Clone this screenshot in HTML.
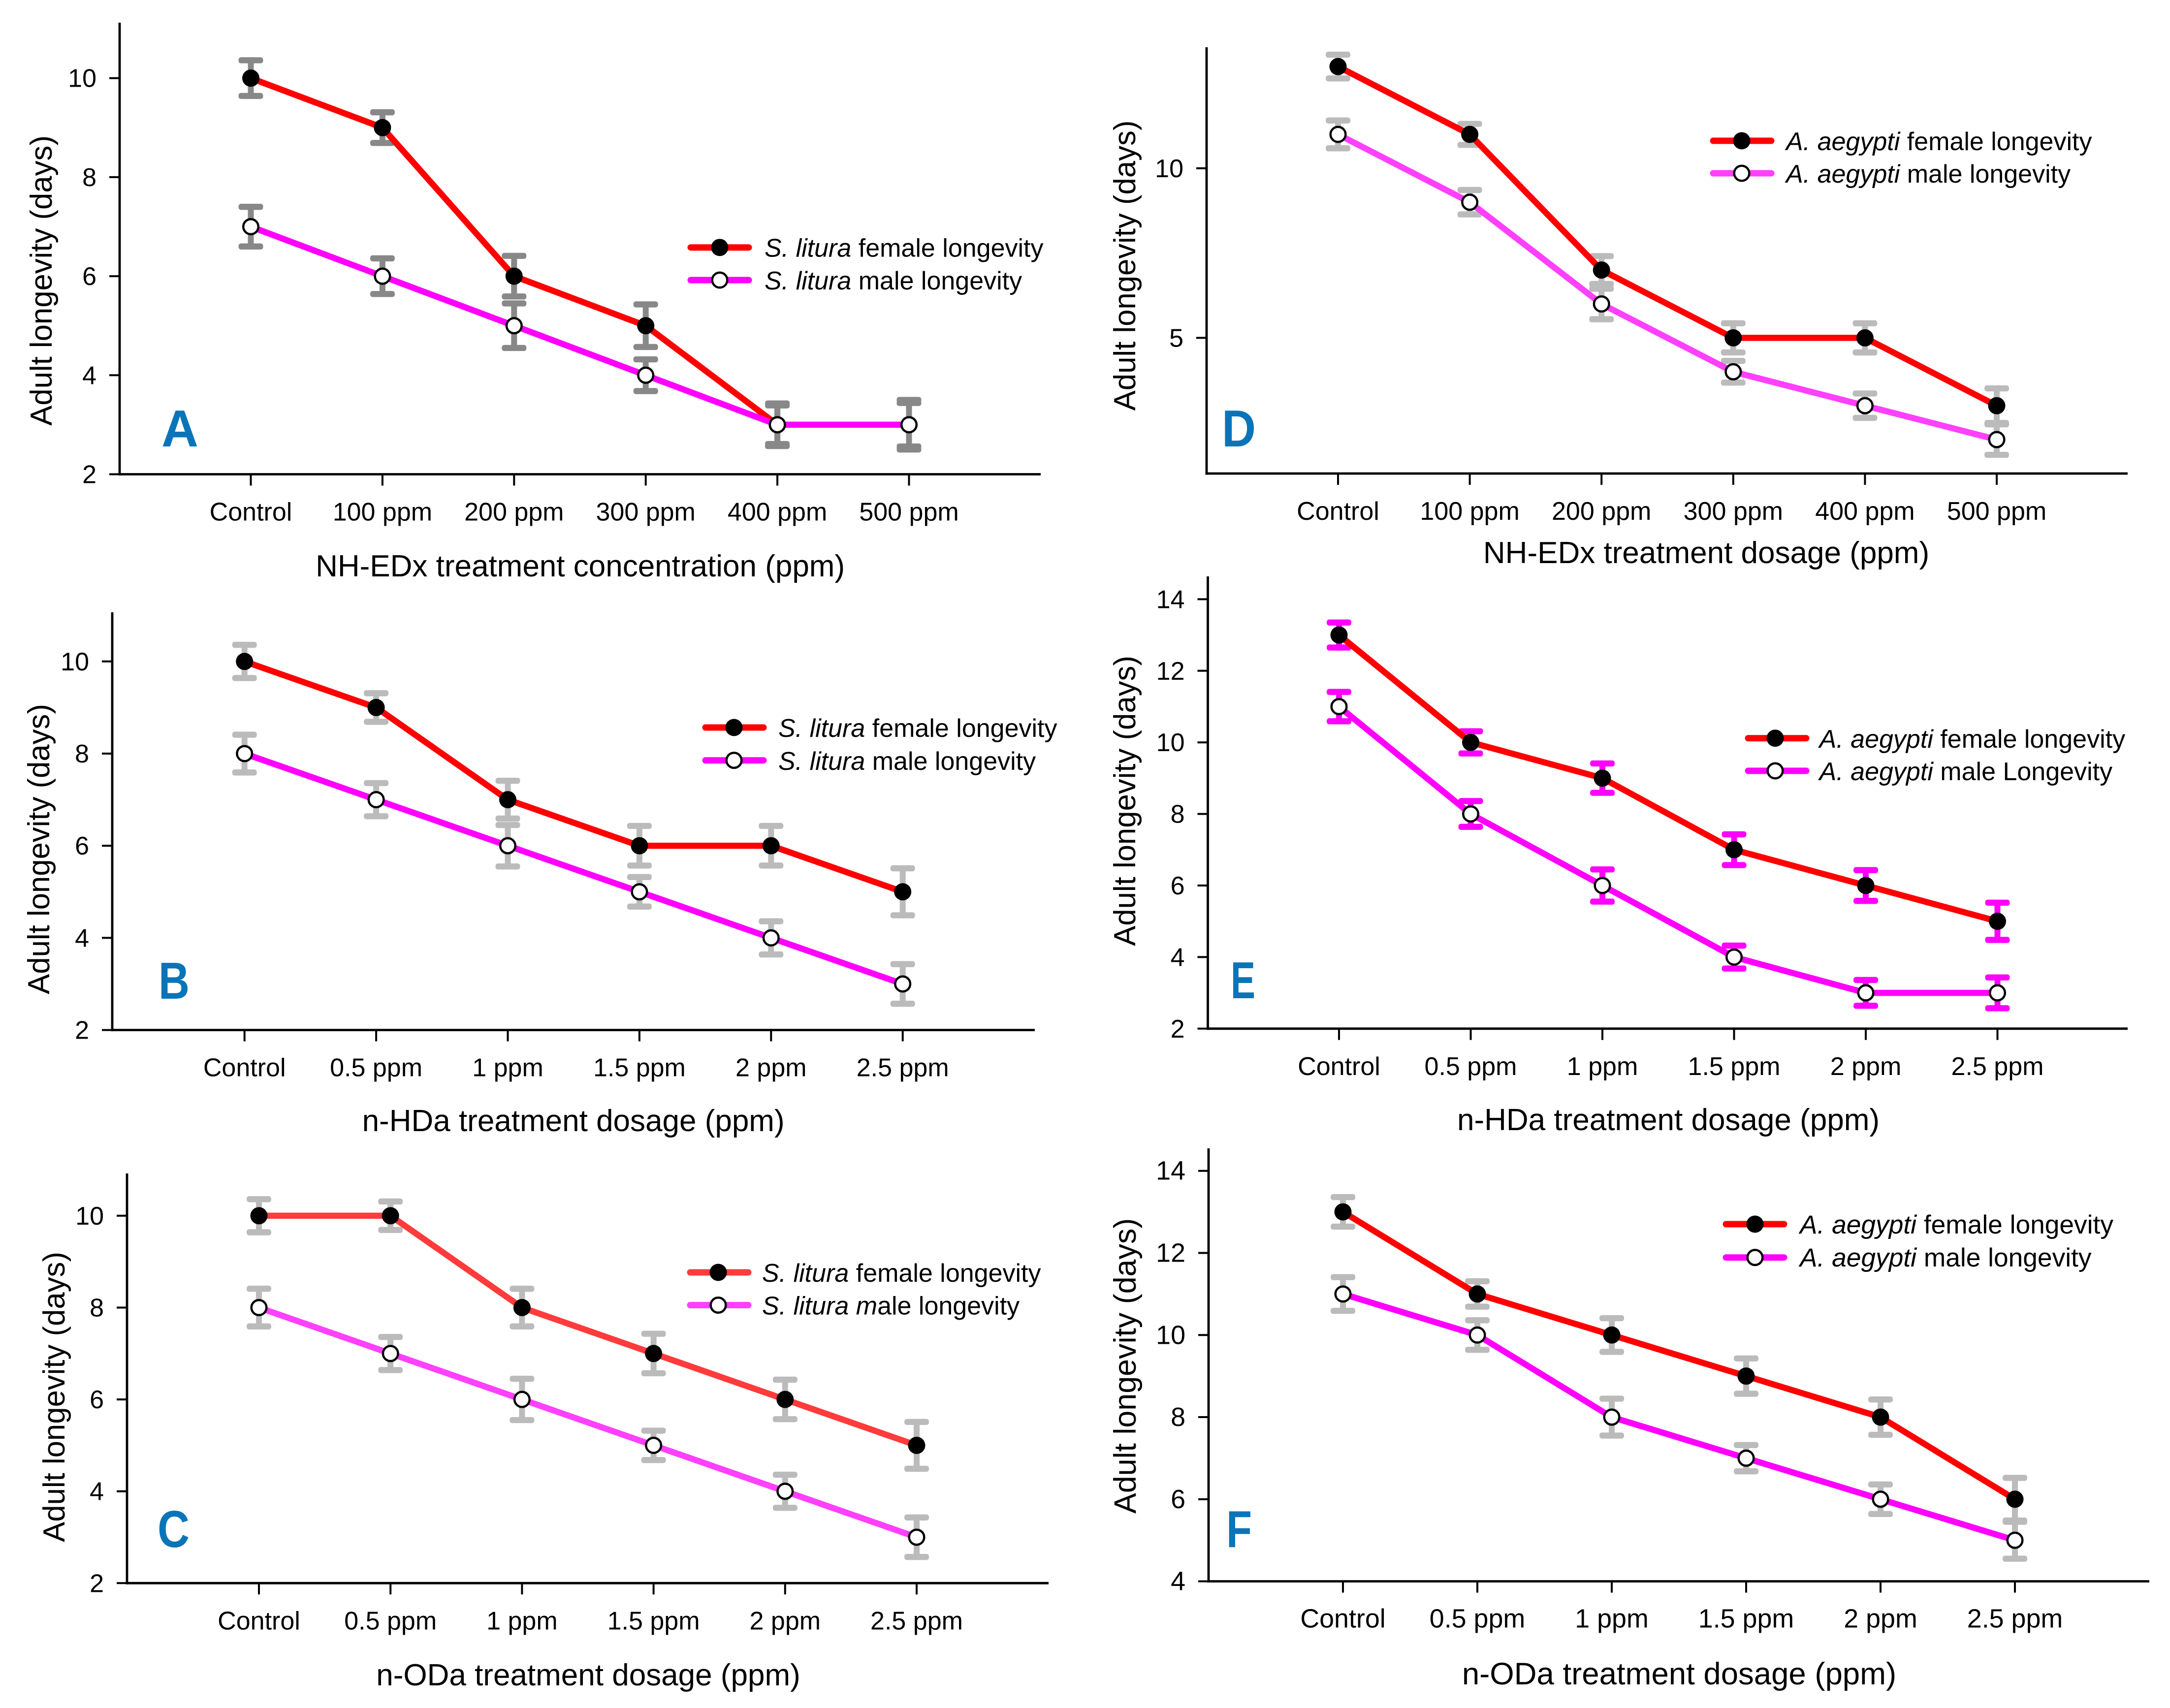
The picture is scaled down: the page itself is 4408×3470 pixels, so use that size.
<!DOCTYPE html>
<html lang="en">
<head>
<meta charset="utf-8">
<title>Adult longevity charts</title>
<style>
html,body{margin:0;padding:0;background:#fff;}
svg{display:block;}
text{font-family:"Liberation Sans",sans-serif;fill:#000;}
.title{font-size:62px;}
.title-y{font-size:61.7px;}
.title-f{font-size:63.5px;}
.title-fy{font-size:62.8px;}
.leg{font-size:52px;}
.leg-f{font-size:53.3px;}
.tick{font-size:52px;}
.letter{font-size:106px;font-weight:bold;fill:#0a74b9;}
.it{font-style:italic;}
</style>
</head>
<body>
<svg id="figure" xmlns="http://www.w3.org/2000/svg" width="4408" height="3470" viewBox="0 0 4408 3470">
<rect x="0" y="0" width="4408" height="3470" fill="#ffffff"/>

<g id="panel-a">
  <text class="title-y" transform="translate(105,570) rotate(-90)" text-anchor="middle">Adult longevity (days)</text>
  <text class="title" x="1178.6" y="1171" text-anchor="middle">NH-EDx treatment concentration (ppm)</text>
  <text class="letter" x="328" y="907" textLength="75" lengthAdjust="spacingAndGlyphs">A</text>
</g>
<g id="panel-b">
  <text class="title-y" transform="translate(100,1725) rotate(-90)" text-anchor="middle">Adult longevity (days)</text>
  <text class="title" x="1164.6" y="2298" text-anchor="middle">n-HDa treatment dosage (ppm)</text>
  <text class="letter" x="322" y="2029" textLength="63" lengthAdjust="spacingAndGlyphs">B</text>
</g>
<g id="panel-c">
  <text class="title-y" transform="translate(131,2838) rotate(-90)" text-anchor="middle">Adult longevity (days)</text>
  <text class="title" x="1195" y="3424" text-anchor="middle">n-ODa treatment dosage (ppm)</text>
  <text class="letter" x="320" y="3143" textLength="65" lengthAdjust="spacingAndGlyphs">C</text>
</g>
<g id="panel-d">
  <text class="title-y" transform="translate(2306,539.5) rotate(-90)" text-anchor="middle">Adult longevity (days)</text>
  <text class="title" x="3466" y="1144" text-anchor="middle">NH-EDx treatment dosage (ppm)</text>
  <text class="letter" x="2482" y="907" textLength="69" lengthAdjust="spacingAndGlyphs">D</text>
</g>
<g id="panel-e">
  <text class="title-y" transform="translate(2306,1627) rotate(-90)" text-anchor="middle">Adult longevity (days)</text>
  <text class="title" x="3389" y="2296" text-anchor="middle">n-HDa treatment dosage (ppm)</text>
  <text class="letter" x="2500" y="2028" textLength="50" lengthAdjust="spacingAndGlyphs">E</text>
</g>
<g id="panel-f">
  <text class="title-fy" transform="translate(2307,2775) rotate(-90)" text-anchor="middle">Adult longevity (days)</text>
  <text class="title-f" x="3411" y="3422" text-anchor="middle">n-ODa treatment dosage (ppm)</text>
  <text class="letter" x="2491" y="3143" textLength="52" lengthAdjust="spacingAndGlyphs">F</text>
</g>

<!-- legends -->
<g>
  <g>
    <line x1="1403" y1="502.7" x2="1521" y2="502.7" stroke="#ff0000" stroke-width="13" stroke-linecap="round"/>
    <circle cx="1462" cy="502.7" r="17.5" fill="#000"/>
    <text class="leg" x="1553" y="521.7"><tspan class="it">S. litura</tspan> female longevity</text>
  </g>
  <g>
    <line x1="1403" y1="569" x2="1521" y2="569" stroke="#ff00ff" stroke-width="13" stroke-linecap="round"/>
    <circle cx="1462" cy="569" r="15.3" fill="#fff" stroke="#000" stroke-width="4.5"/>
    <text class="leg" x="1553" y="588"><tspan class="it">S. litura</tspan> male longevity</text>
  </g>
</g>
<g>
  <g>
    <line x1="1433" y1="1478" x2="1551" y2="1478" stroke="#ff0000" stroke-width="13" stroke-linecap="round"/>
    <circle cx="1491" cy="1478" r="17.5" fill="#000"/>
    <text class="leg" x="1581" y="1497"><tspan class="it">S. litura</tspan> female longevity</text>
  </g>
  <g>
    <line x1="1433" y1="1544.7" x2="1551" y2="1544.7" stroke="#ff00ff" stroke-width="13" stroke-linecap="round"/>
    <circle cx="1491" cy="1544.7" r="15.3" fill="#fff" stroke="#000" stroke-width="4.5"/>
    <text class="leg" x="1581" y="1564"><tspan class="it">S. litura</tspan> male longevity</text>
  </g>
</g>
<g>
  <g>
    <line x1="1402" y1="2585" x2="1520" y2="2585" stroke="#ff3b3b" stroke-width="13" stroke-linecap="round"/>
    <circle cx="1459" cy="2585" r="17.5" fill="#000"/>
    <text class="leg" x="1548" y="2604"><tspan class="it">S. litura</tspan> female longevity</text>
  </g>
  <g>
    <line x1="1402" y1="2651.5" x2="1520" y2="2651.5" stroke="#ff40ff" stroke-width="13" stroke-linecap="round"/>
    <circle cx="1459" cy="2651.5" r="15.3" fill="#fff" stroke="#000" stroke-width="4.5"/>
    <text class="leg" x="1548" y="2670.5"><tspan class="it">S. litura m</tspan>ale longevity</text>
  </g>
</g>
<g>
  <g>
    <line x1="3480" y1="286" x2="3598" y2="286" stroke="#ff0000" stroke-width="13" stroke-linecap="round"/>
    <circle cx="3538" cy="286" r="17.5" fill="#000"/>
    <text class="leg" x="3628" y="305"><tspan class="it">A. aegypti</tspan> female longevity</text>
  </g>
  <g>
    <line x1="3480" y1="352" x2="3598" y2="352" stroke="#ff40ff" stroke-width="13" stroke-linecap="round"/>
    <circle cx="3538" cy="352" r="15.3" fill="#fff" stroke="#000" stroke-width="4.5"/>
    <text class="leg" x="3628" y="371"><tspan class="it">A. aegypti</tspan> male longevity</text>
  </g>
</g>
<g>
  <g>
    <line x1="3551" y1="1499.7" x2="3669" y2="1499.7" stroke="#ff0000" stroke-width="13" stroke-linecap="round"/>
    <circle cx="3606" cy="1499.7" r="17.5" fill="#000"/>
    <text class="leg" x="3695.6" y="1519"><tspan class="it">A. aegypti</tspan> female longevity</text>
  </g>
  <g>
    <line x1="3551" y1="1566" x2="3669" y2="1566" stroke="#ff00ff" stroke-width="13" stroke-linecap="round"/>
    <circle cx="3606" cy="1566" r="15.3" fill="#fff" stroke="#000" stroke-width="4.5"/>
    <text class="leg" x="3695.6" y="1585"><tspan class="it">A. aegypti</tspan> male Longevity</text>
  </g>
</g>
<g>
  <g>
    <line x1="3506" y1="2487" x2="3624" y2="2487" stroke="#ff0000" stroke-width="13" stroke-linecap="round"/>
    <circle cx="3565" cy="2487" r="17.5" fill="#000"/>
    <text class="leg-f" x="3656" y="2506"><tspan class="it">A. aegypti</tspan> female longevity</text>
  </g>
  <g>
    <line x1="3506" y1="2554.7" x2="3624" y2="2554.7" stroke="#ff00ff" stroke-width="13" stroke-linecap="round"/>
    <circle cx="3565" cy="2554.7" r="15.3" fill="#fff" stroke="#000" stroke-width="4.5"/>
    <text class="leg-f" x="3656" y="2573"><tspan class="it">A. aegypti</tspan> male longevity</text>
  </g>
</g>
</svg>

<script>
// ---------- data ----------
const categoriesNH = ['Control', '100 ppm', '200 ppm', '300 ppm', '400 ppm', '500 ppm'];
const categoriesDose = ['Control', '0.5 ppm', '1 ppm', '1.5 ppm', '2 ppm', '2.5 ppm'];

const yTicksA = [2, 4, 6, 8, 10];
const femaleA = [10, 9, 6, 5, 3, 3];
const maleA = [7, 6, 5, 4, 3, 3];
const femaleErrA = [0.36, 0.31, 0.41, 0.43, 0.39, 0.44];
const maleErrA = [0.40, 0.36, 0.45, 0.32, 0.43, 0.50];

const yTicksB = [2, 4, 6, 8, 10];
const femaleB = [10, 9, 7, 6, 6, 5];
const maleB = [8, 7, 6, 5, 4, 3];
const femaleErrB = [0.36, 0.31, 0.41, 0.43, 0.43, 0.51];
const maleErrB = [0.41, 0.36, 0.45, 0.32, 0.36, 0.43];

const yTicksC = [2, 4, 6, 8, 10];
const femaleC = [10, 10, 8, 7, 6, 5];
const maleC = [8, 7, 6, 5, 4, 3];
const femaleErrC = [0.36, 0.31, 0.41, 0.43, 0.43, 0.51];
const maleErrC = [0.41, 0.36, 0.45, 0.32, 0.36, 0.43];

const yTicksD = [5, 10];
const femaleD = [13, 11, 7, 5, 5, 3];
const maleD = [11, 9, 6, 4, 3, 2];
const femaleErrD = [0.35, 0.31, 0.41, 0.43, 0.43, 0.51];
const maleErrD = [0.41, 0.36, 0.45, 0.32, 0.36, 0.45];

const yTicksE = [2, 4, 6, 8, 10, 12, 14];
const femaleE = [13, 10, 9, 7, 6, 5];
const maleE = [11, 8, 6, 4, 3, 3];
const femaleErrE = [0.35, 0.31, 0.41, 0.43, 0.43, 0.52];
const maleErrE = [0.41, 0.36, 0.45, 0.32, 0.36, 0.43];

const yTicksF = [4, 6, 8, 10, 12, 14];
const femaleF = [13, 11, 10, 9, 8, 6];
const maleF = [11, 10, 8, 7, 6, 5];
const femaleErrF = [0.36, 0.31, 0.41, 0.43, 0.43, 0.52];
const maleErrF = [0.41, 0.36, 0.45, 0.32, 0.36, 0.45];

// ---------- drawing ----------
const SVGNS = 'http://www.w3.org/2000/svg';

function make(parent, tag, attrs) {
  const node = document.createElementNS(SVGNS, tag);
  for (const key in attrs) node.setAttribute(key, attrs[key]);
  parent.appendChild(node);
  return node;
}

function drawPanel(p) {
  const root = document.getElementById(p.id);
  const xScale = function (i) { return p.firstX + i * p.stepX; };
  const yScale = function (v) { return p.baseY - (v - p.minY) * p.unitY; };
  const tickFont = (p.tickFont || 52) + 'px';

  // axes
  const yAxis = make(root, 'line', { x1: p.axisX, y1: p.topY, x2: p.axisX, y2: p.baseY + 2.5, stroke: '#000', 'stroke-width': 4.8 });
  
  

  const xAxis = make(root, 'line', { x1: p.axisX - 2.4, y1: p.baseY, x2: p.endX, y2: p.baseY, stroke: '#000', 'stroke-width': 4.8 });
  
  

  // y ticks
  p.yTicks.forEach(function (v) {
    const y = yScale(v);
    const tick = make(root, 'line', { x1: p.axisX - 21, y1: y, x2: p.axisX, y2: y, stroke: '#000', 'stroke-width': 4 });
    
    
    const label = make(root, 'text', { class: 'tick', x: p.axisX - 47, y: y + 18, 'text-anchor': 'end' });
    
    
    label.style.fontSize = tickFont;
    label.textContent = String(v);
  });

  // x ticks
  p.categories.forEach(function (c, i) {
    const x = xScale(i);
    const tick = make(root, 'line', { x1: x, y1: p.baseY, x2: x, y2: p.baseY + 23, stroke: '#000', 'stroke-width': 4 });
    
    
    const label = make(root, 'text', { class: 'tick', x: x, y: p.baseY + 94, 'text-anchor': 'middle' });
    
    
    label.style.fontSize = tickFont;
    label.textContent = c;
  });

  // error bars
  [[p.female, p.femaleErr], [p.male, p.maleErr]].forEach(function (pair) {
    pair[0].forEach(function (v, i) {
      const x = xScale(i);
      const top = yScale(v + pair[1][i]);
      const bottom = yScale(v - pair[1][i]);
      const bar = make(root, 'g', { fill: p.errColor });
      
      
      make(bar, 'rect', { x: x - 6, y: top, width: 12, height: bottom - top });
      make(bar, 'rect', { x: x - 25, y: top - 6.2, width: 50, height: 12.4, rx: 5, ry: 5 });
      make(bar, 'rect', { x: x - 25, y: bottom - 6.2, width: 50, height: 12.4, rx: 5, ry: 5 });
    });
  });

  // series lines
  const toPoints = function (values) {
    return values.map(function (v, i) { return xScale(i) + ',' + yScale(v); }).join(' ');
  };
  const femaleValues = p.femaleLineEnd ? p.female.slice(0, p.femaleLineEnd) : p.female;
  const femaleLine = make(root, 'polyline', { points: toPoints(femaleValues), fill: 'none', stroke: p.femaleColor, 'stroke-width': 12.5, 'stroke-linejoin': 'round' });
  
  

  const maleLine = make(root, 'polyline', { points: toPoints(p.male), fill: 'none', stroke: p.maleColor, 'stroke-width': 12.5, 'stroke-linejoin': 'round' });
  
  

  // markers
  p.female.forEach(function (v, i) {
    if (p.femaleLineEnd && i >= p.femaleLineEnd) return;
    const dot = make(root, 'circle', { cx: xScale(i), cy: yScale(v), r: 17.5, fill: '#000' });
    
    
  });
  p.male.forEach(function (v, i) {
    const dot = make(root, 'circle', { cx: xScale(i), cy: yScale(v), r: 15.3, fill: '#fff', stroke: '#000', 'stroke-width': 4.5 });
    
    
  });
}

drawPanel({ id: 'panel-a', categories: categoriesNH, yTicks: yTicksA, female: femaleA, male: maleA, femaleErr: femaleErrA, maleErr: maleErrA,
  axisX: 243, topY: 46, baseY: 963.5, endX: 2114, firstX: 509.5, stepX: 267.4, minY: 2, unitY: 100.6, errColor: '#888888', femaleColor: '#ff0000', maleColor: '#ff00ff', femaleLineEnd: 5 });
drawPanel({ id: 'panel-b', categories: categoriesDose, yTicks: yTicksB, female: femaleB, male: maleB, femaleErr: femaleErrB, maleErr: maleErrB,
  axisX: 228, topY: 1244, baseY: 2092.6, endX: 2102, firstX: 496.7, stepX: 267.4, minY: 2, unitY: 93.6, errColor: '#bbbbbb', femaleColor: '#ff0000', maleColor: '#ff00ff' });
drawPanel({ id: 'panel-c', categories: categoriesDose, yTicks: yTicksC, female: femaleC, male: maleC, femaleErr: femaleErrC, maleErr: maleErrC,
  axisX: 258, topY: 2384, baseY: 3216.3, endX: 2130, firstX: 526, stepX: 267.2, minY: 2, unitY: 93.3, errColor: '#bbbbbb', femaleColor: '#ff3b3b', maleColor: '#ff40ff' });
drawPanel({ id: 'panel-d', categories: categoriesNH, yTicks: yTicksD, female: femaleD, male: maleD, femaleErr: femaleErrD, maleErr: maleErrD,
  axisX: 2451, topY: 96, baseY: 962, endX: 4322, firstX: 2718, stepX: 267.6, minY: 1, unitY: 68.9, errColor: '#bbbbbb', femaleColor: '#ff0000', maleColor: '#ff40ff' });
drawPanel({ id: 'panel-e', categories: categoriesDose, yTicks: yTicksE, female: femaleE, male: maleE, femaleErr: femaleErrE, maleErr: maleErrE,
  axisX: 2453.5, topY: 1171, baseY: 2089.8, endX: 4322, firstX: 2720, stepX: 267.5, minY: 2, unitY: 72.7, errColor: '#ff00ff', femaleColor: '#ff0000', maleColor: '#ff00ff' });
drawPanel({ id: 'panel-f', categories: categoriesDose, yTicks: yTicksF, female: femaleF, male: maleF, femaleErr: femaleErrF, maleErr: maleErrF, tickFont: 53.8,
  axisX: 2455, topY: 2333, baseY: 3212.6, endX: 4366, firstX: 2728, stepX: 273, minY: 4, unitY: 83.39, errColor: '#bbbbbb', femaleColor: '#ff0000', maleColor: '#ff00ff' });
</script>
</body>
</html>
